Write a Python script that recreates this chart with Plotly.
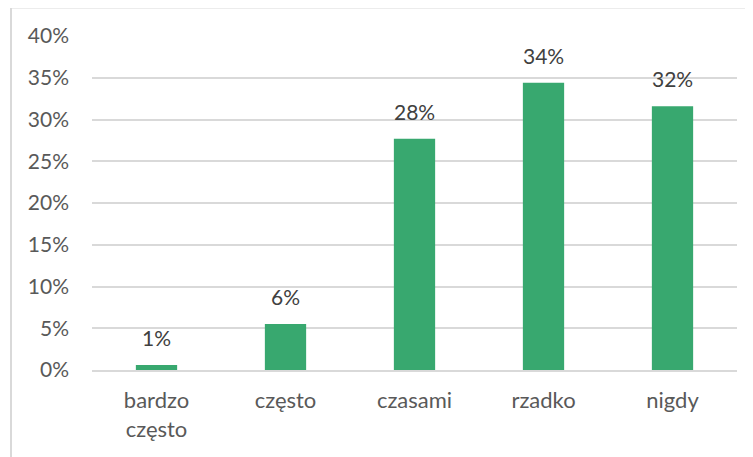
import plotly.graph_objects as go

categories = ["bardzo<br>często", "często", "czasami", "rzadko", "nigdy"]
values = [0.6, 5.5, 27.7, 34.4, 31.6]
labels = ["1%", "6%", "28%", "34%", "32%"]
tick_vals = [0, 5, 10, 15, 20, 25, 30, 35, 40]
tick_text = ["0%", "5%", "10%", "15%", "20%", "25%", "30%", "35%", "40%"]

OFF = 8  # page body margin offset
W, H = 753 - OFF, 457 - OFF
L, T = 92 - OFF, 36 - OFF
pw, ph = 645, 334
R, B = W - L - pw, H - T - ph

FONT = "Lato, Noto Sans, sans-serif"

fig = go.Figure()
fig.add_trace(go.Bar(x=categories, y=values, marker=dict(color="#38a86f", line=dict(width=0)),
                     hoverinfo="skip"))

for c, v, t in zip(categories, values, labels):
    fig.add_annotation(x=c, y=v, text=t, showarrow=False, yanchor="bottom", yshift=13,
                       font=dict(family=FONT, size=21, color="#404040"))

bx = (11 - OFF - L) / pw
by = (T + ph - (7.5 - OFF)) / ph
fig.add_shape(type="line", xref="paper", yref="paper", x0=bx, x1=1.2, y0=by, y1=by,
              line=dict(color="#d9d9d9", width=2))
fig.add_shape(type="line", xref="paper", yref="paper", x0=bx, x1=bx, y0=by, y1=-0.5,
              line=dict(color="#d9d9d9", width=2))

fig.update_layout(
    width=W, height=H,
    margin=dict(l=L, r=R, t=T, b=B),
    paper_bgcolor="white", plot_bgcolor="white",
    bargap=0.68,
    showlegend=False,
    font=dict(family=FONT, size=21, color="#595959"),
    xaxis=dict(showgrid=False, showline=True, linecolor="#d9d9d9", linewidth=1.5,
               ticks="", ticklabelstandoff=10, tickfont=dict(size=22, color="#595959")),
    yaxis=dict(range=[0, 40], tickvals=tick_vals, ticktext=tick_text,
               showgrid=True, gridcolor="#d9d9d9", gridwidth=1.5, zeroline=False,
               ticks="", ticklabelstandoff=22, tickfont=dict(size=21, color="#595959")),
)

fig.write_html("out.html")
